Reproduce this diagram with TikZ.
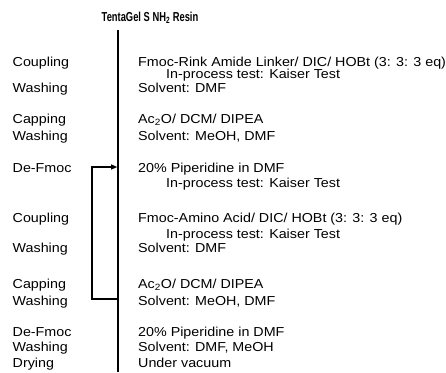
\documentclass[tikz,border=0pt]{standalone}
\usepackage{fontspec}
\setmainfont{Liberation Sans}[FakeStretch=1.1]
\newfontfamily\titlefont{Liberation Sans Bold}[FakeStretch=0.72]
\usepackage{tikz}
\usetikzlibrary{arrows.meta}
\newcommand{\stage}[4]{\node[lbl] (#1l) at (12.5,#2) {#3}; \node[lbl] (#1r) at (138,#2) {#4};}
\newcommand{\ipc}[2]{\node[lbl] (#1) at (166,#2) {In-process test: Kaiser Test};}

\begin{document}
\begin{tikzpicture}[x=1pt,y=-1pt,
  lbl/.style={anchor=base west,inner sep=0pt,font=\fontsize{13}{15}\selectfont}]
\useasboundingbox (0,0) rectangle (446,372);
% ---- HARZ + ACHSE ----
\node[inner sep=0pt,font=\titlefont\fontsize{13}{15}\selectfont] (resin) at (150,18) {TentaGel S NH\textsubscript{2} Resin};
\coordinate (axtop) at (118,30);
\coordinate (axbot) at (118,372);
\draw[line width=1.6pt] (axtop) -- (axbot);
% ---- SCHRITTE ----
\stage{cpa}{66}{Coupling}{Fmoc-Rink Amide Linker/ DIC/ HOBt (3: 3: 3 eq)}
\ipc{ipa}{78.5}
\stage{wsa}{92}{Washing}{Solvent: DMF}
\stage{cap}{123.5}{Capping}{Ac\textsubscript{2}O/ DCM/ DIPEA}
\stage{wsb}{140.5}{Washing}{Solvent: MeOH, DMF}
\stage{dfa}{172.5}{De-Fmoc}{20\% Piperidine in DMF}
\ipc{ipb}{187.5}
\stage{cpb}{222.5}{Coupling}{Fmoc-Amino Acid/ DIC/ HOBt (3: 3: 3 eq)}
\ipc{ipc}{238}
\stage{wsc}{252.5}{Washing}{Solvent: DMF}
\stage{cbp}{288.5}{Capping}{Ac\textsubscript{2}O/ DCM/ DIPEA}
\stage{wsd}{305.5}{Washing}{Solvent: MeOH, DMF}
\stage{dfb}{336.5}{De-Fmoc}{20\% Piperidine in DMF}
\stage{wse}{351.5}{Washing}{Solvent: DMF, MeOH}
\stage{dry}{367.5}{Drying}{Under vacuum}
% ---- ZYKLUS ----
\coordinate (cycout) at (118,299);
\coordinate (cyclo) at (92,299);
\coordinate (cychi) at (92,167);
\coordinate (cycin) at (118,167);
\draw[line width=1.1pt,-{Triangle[length=6pt,width=5pt]},shorten >=0.8pt]
  (cycout) -- (cyclo) -- (cychi) -- (cycin);
\end{tikzpicture}
\end{document}
